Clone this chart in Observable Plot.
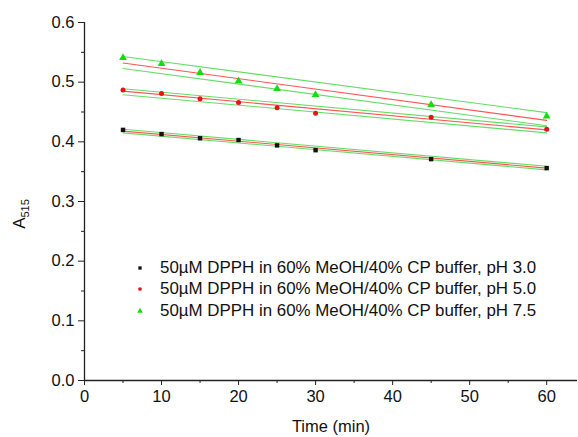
<!DOCTYPE html>
<html><head><meta charset="utf-8">
<script src="https://cdn.jsdelivr.net/npm/d3@7"></script>
<script src="https://cdn.jsdelivr.net/npm/@observablehq/plot@0.6"></script>
<style>
body{margin:0;background:#fff;}
#wrap{position:relative;width:578px;height:437px;}
</style>
</head><body><div id="wrap"></div>
<script>
// ---- data ----
const times = [5, 10, 15, 20, 25, 30, 45, 60];
const seriesNames = [
  "50\u00b5M DPPH in 60% MeOH/40% CP buffer, pH 3.0",
  "50\u00b5M DPPH in 60% MeOH/40% CP buffer, pH 5.0",
  "50\u00b5M DPPH in 60% MeOH/40% CP buffer, pH 7.5"
];
const absPH30 = [0.420, 0.413, 0.406, 0.403, 0.394, 0.386, 0.371, 0.356];
const absPH50 = [0.487, 0.481, 0.472, 0.466, 0.457, 0.448, 0.441, 0.421];
const absPH75 = [0.541, 0.531, 0.516, 0.502, 0.489, 0.479, 0.462, 0.443];

// linear fits (red) and confidence band edges (green), read at t = 5 and t = 60
const fitTimes = [5, 60];
const fitPH30 = [0.418, 0.356];
const upperPH30 = [0.421, 0.359];
const lowerPH30 = [0.415, 0.353];
const fitPH50 = [0.485, 0.420];
const upperPH50 = [0.489, 0.425];
const lowerPH50 = [0.479, 0.415];
const fitPH75 = [0.532, 0.436];
const upperPH75 = [0.543, 0.449];
const lowerPH75 = [0.523, 0.427];

const xMajor = [0, 10, 20, 30, 40, 50, 60];
const xMinor = [5, 15, 25, 35, 45, 55];
const yMajor = [0.0, 0.1, 0.2, 0.3, 0.4, 0.5, 0.6];
const yMinor = [0.05, 0.15, 0.25, 0.35, 0.45, 0.55];

// ---- build tables ----
const seriesVals = [absPH30, absPH50, absPH75];
const colors = ["#111111", "#ee1111", "#11dd11"];
const points = seriesVals.flatMap((vals, s) => vals.map((v, i) => ({t: times[i], a: v, s})));
const lineSet = (arr, key) => arr.flatMap((vals, s) => vals.map((v, i) => ({t: fitTimes[i], a: v, s, key: key + s})));
const fits = lineSet([fitPH30, fitPH50, fitPH75], "fit");
const bands = lineSet([upperPH30, upperPH50, upperPH75], "up").concat(lineSet([lowerPH30, lowerPH50, lowerPH75], "lo"));

const font = "'Liberation Sans', Arial, Helvetica, sans-serif";

const chart = Plot.plot({
  width: 578,
  height: 437,
  marginLeft: 84,
  marginRight: 1,
  marginTop: 22,
  marginBottom: 57,
  style: {fontFamily: font, fontSize: "16px", color: "#111", background: "#fff"},
  x: {domain: [0, 64]},
  y: {domain: [0, 0.6]},
  marks: [
    Plot.line(bands, {x: "t", y: "a", z: "key", stroke: "#66dd66", strokeWidth: 1.1}),
    Plot.line(fits, {x: "t", y: "a", z: "key", stroke: "#ff5555", strokeWidth: 1.1}),
    Plot.dot(points.filter(d => d.s === 0), {x: "t", y: "a", symbol: "square", r: 2.5, fill: colors[0]}),
    Plot.dot(points.filter(d => d.s === 1), {x: "t", y: "a", symbol: "circle", r: 2.5, fill: colors[1]}),
    Plot.dot(points.filter(d => d.s === 2), {x: "t", y: "a", symbol: "triangle", r: 2.9, fill: colors[2]}),
    Plot.ruleX([0], {stroke: "#222", strokeWidth: 1.3}),
    Plot.ruleY([0], {stroke: "#222", strokeWidth: 1.3}),
    Plot.axisX({ticks: xMajor, tickSize: 5, tickPadding: 5, label: null, tickFormat: d => d.toString(), stroke: "#222", fontSize: 16.5}),
    Plot.axisX({ticks: xMinor, tickSize: 3, label: null, tickFormat: () => "", stroke: "#222"}),
    Plot.axisY({ticks: yMajor, tickSize: 6, tickPadding: 4, label: null, tickFormat: d3.format(".1f"), stroke: "#222", fontSize: 16.5}),
    Plot.axisY({ticks: yMinor, tickSize: 3, label: null, tickFormat: () => "", stroke: "#222"})
  ]
});

document.getElementById("wrap").appendChild(chart);

// ---- titles & legend ----
const svg = d3.select(chart);
svg.append("text")
  .attr("x", 331).attr("y", 432)
  .attr("text-anchor", "middle")
  .attr("font-family", font).attr("font-size", 16.5).attr("fill", "#111")
  .text("Time (min)");

const yl = svg.append("text")
  .attr("transform", "translate(25,214) rotate(-90)")
  .attr("text-anchor", "middle")
  .attr("font-family", font).attr("font-size", 17).attr("fill", "#111");
yl.append("tspan").text("A");
yl.append("tspan").attr("font-size", 11).attr("dy", 4).text("515");

const lg = svg.append("g");
const legendRows = [273, 294, 316];
seriesNames.forEach((name, i) => {
  const sym = d3.symbol().type([d3.symbolSquare, d3.symbolCircle, d3.symbolTriangle][i]).size(i === 2 ? 14 : 11);
  lg.append("path")
    .attr("d", sym())
    .attr("transform", `translate(140,${legendRows[i] - 5})`)
    .attr("fill", colors[i]);
  lg.append("text")
    .attr("x", 160).attr("y", legendRows[i])
    .attr("text-anchor", "start")
    .attr("font-family", font).attr("font-size", 16.9).attr("fill", "#111")
    .text(name);
});
</script>
</body></html>
